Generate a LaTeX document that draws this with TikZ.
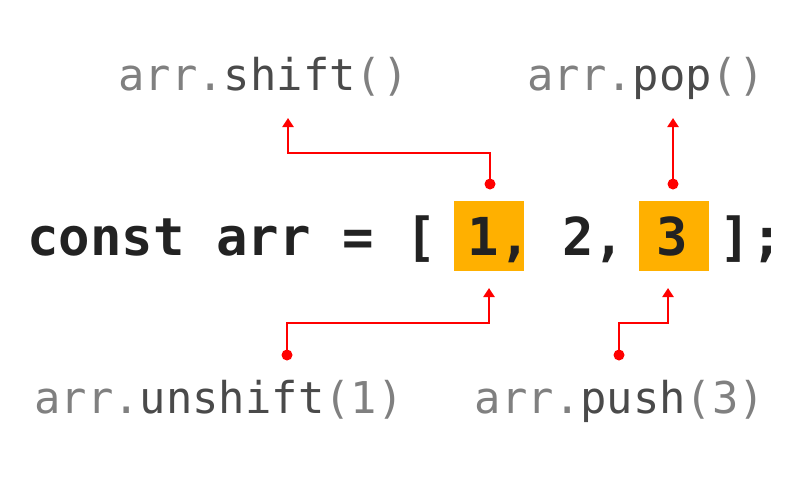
\documentclass[tikz,border=0pt]{standalone}
\usepackage{fontspec}
\usetikzlibrary{arrows.meta}
\newfontfamily\codefont{DejaVu Sans Mono}
\definecolor{codeink}{HTML}{222222}
\definecolor{lightink}{HTML}{808080}
\definecolor{nameink}{HTML}{4A4A4A}
\definecolor{hlorange}{HTML}{FFB000}
\definecolor{linkred}{HTML}{FF0000}
\tikzset{
  code/.style={anchor=base west, inner sep=0pt, text=codeink,
    font=\codefont\bfseries\fontsize{52.3}{60}\selectfont},
  method/.style={anchor=base, inner sep=0pt, text=lightink,
    font=\codefont\fontsize{43.8}{50}\selectfont},
  hlbox/.style={fill=hlorange, draw=none, minimum width=70pt, minimum height=70pt, inner sep=0pt},
  dot/.style={circle, fill=linkred, draw=none, minimum size=11pt, inner sep=0pt},
  conn/.style={draw=linkred, line width=2.4pt, -{Triangle[width=11pt,length=9pt]}}
}
\newcommand{\mname}[1]{\textcolor{nameink}{#1}}
\begin{document}
\begin{tikzpicture}[x=1pt,y=-1pt]
  \fill[white] (0,0) rectangle (811,480);
  \useasboundingbox (0,0) rectangle (811,480);

  % highlighted array elements
  \node[hlbox] (box1) at (489,236) {};
  \node[hlbox] (box3) at (674,236) {};

  % the statement
  \node[code] (code) at (27,255) {const arr = [ 1, 2, 3 ];};

  % method calls
  \node[method] (shift)   at (263.5,90) {arr.\mname{shift}()};
  \node[method] (pop)     at (646,90)   {arr.\mname{pop}()};
  \node[method] (unshift) at (219,413)  {arr.\mname{unshift}(1)};
  \node[method] (push)    at (620,413)  {arr.\mname{push}(3)};

  % connector ends
  \node[dot] (d1) at (490,184) {};
  \node[dot] (d2) at (673,184) {};
  \node[dot] (d3) at (287,355) {};
  \node[dot] (d4) at (619,355) {};
  \coordinate (t1) at (288,118);
  \coordinate (t2) at (673,118);
  \coordinate (t3) at (489,288);
  \coordinate (t4) at (668,288);

  % connectors
  \draw[conn] (d1.center) -- ++(0,-31) -| (t1);
  \draw[conn] (d2.center) -- (t2);
  \draw[conn] (d3.center) -- ++(0,-32) -| (t3);
  \draw[conn] (d4.center) -- ++(0,-32) -| (t4);
\end{tikzpicture}
\end{document}
